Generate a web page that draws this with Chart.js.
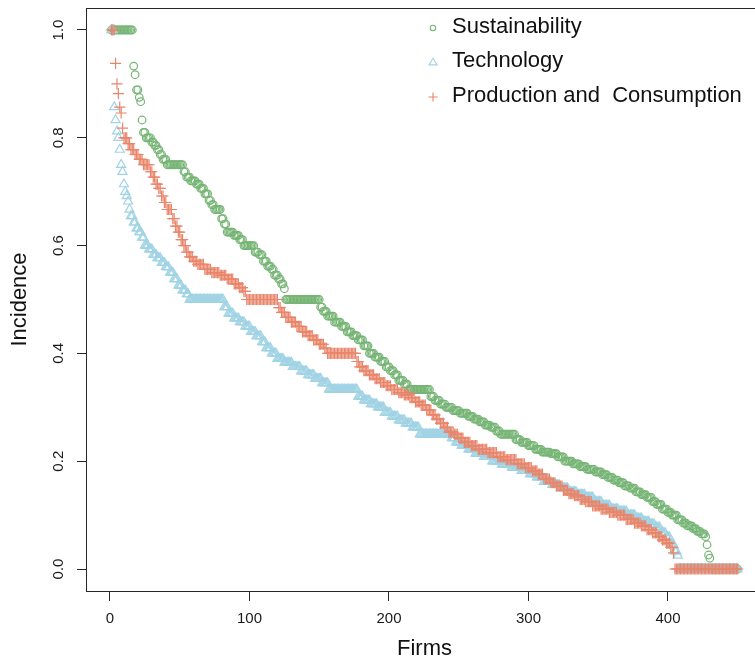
<!DOCTYPE html>
<html>
<head>
<meta charset="utf-8">
<script src="https://cdn.jsdelivr.net/npm/chart.js@4.4.1/dist/chart.umd.min.js"></script>
<style>
    html, body { margin: 0; padding: 0; background: #ffffff; overflow: hidden; }
    #wrap { width: 770px; height: 663px; }
</style>
</head>
<body>
<div id="wrap"><canvas id="chart" width="770" height="663"></canvas></div>
<script>
// series labels and axis ticks
const seriesNames = ["Sustainability", "Technology", "Production and  Consumption"];
const xTicks = [0, 100, 200, 300, 400];
const yTicks = [0, 0.2, 0.4, 0.6, 0.8, 1.0];

// incidence per firm, sorted, written as [value, number of firms] runs
const sustainabilityRuns = [
    [1, 16], [0.933, 1], [0.917, 1], [0.889, 2], [0.875, 1], [0.867, 1], [0.833, 1], [0.81, 2], [0.8, 4],
    [0.792, 2], [0.786, 2], [0.778, 2], [0.769, 2], [0.76, 3], [0.75, 12], [0.737, 2], [0.727, 3], [0.72, 4],
    [0.714, 3], [0.706, 3], [0.696, 3], [0.684, 2], [0.676, 2], [0.667, 5], [0.65, 2], [0.64, 2], [0.625, 5],
    [0.619, 4], [0.611, 3], [0.6, 8], [0.588, 3], [0.583, 3], [0.571, 3], [0.562, 3], [0.556, 2], [0.545, 3],
    [0.538, 2], [0.529, 2], [0.52, 1], [0.5, 25], [0.486, 2], [0.478, 3], [0.469, 5], [0.458, 5], [0.45, 4],
    [0.44, 4], [0.433, 4], [0.425, 4], [0.414, 4], [0.4, 4], [0.393, 4], [0.385, 4], [0.375, 3], [0.368, 3],
    [0.36, 3], [0.35, 4], [0.343, 3], [0.333, 16], [0.32, 3], [0.313, 4], [0.306, 4], [0.3, 5], [0.294, 5],
    [0.289, 6], [0.283, 4], [0.278, 4], [0.273, 4], [0.267, 4], [0.263, 4], [0.256, 3], [0.25, 11], [0.24, 4],
    [0.235, 5], [0.229, 5], [0.222, 5], [0.217, 6], [0.214, 5], [0.208, 5], [0.2, 6], [0.195, 5], [0.19, 5],
    [0.185, 6], [0.18, 5], [0.175, 4], [0.17, 4], [0.165, 4], [0.16, 4], [0.154, 4], [0.15, 4], [0.143, 4],
    [0.138, 4], [0.133, 4], [0.125, 3], [0.12, 4], [0.111, 4], [0.105, 3], [0.1, 4], [0.091, 4], [0.085, 3],
    [0.08, 4], [0.075, 3], [0.07, 3], [0.065, 3], [0.06, 1], [0.045, 1], [0.026, 1], [0.02, 1], [0, 20]
];

const technologyRuns = [
    [1, 2], [0.857, 1], [0.833, 1], [0.812, 1], [0.8, 1], [0.778, 1], [0.75, 1], [0.737, 1], [0.714, 1],
    [0.7, 1], [0.692, 1], [0.682, 1], [0.667, 1], [0.655, 2], [0.643, 2], [0.632, 2], [0.625, 2], [0.615, 2],
    [0.6, 3], [0.593, 3], [0.583, 3], [0.577, 3], [0.568, 3], [0.56, 3], [0.55, 3], [0.538, 3], [0.526, 3],
    [0.517, 3], [0.51, 2], [0.5, 25], [0.486, 3], [0.474, 4], [0.465, 4], [0.458, 4], [0.45, 4], [0.44, 4],
    [0.432, 4], [0.421, 3], [0.41, 4], [0.4, 4], [0.39, 5], [0.383, 6], [0.375, 6], [0.367, 5], [0.36, 5],
    [0.353, 5], [0.345, 5], [0.333, 21], [0.32, 4], [0.313, 5], [0.306, 5], [0.3, 5], [0.29, 5], [0.283, 5],
    [0.276, 5], [0.27, 5], [0.263, 5], [0.25, 23], [0.243, 3], [0.235, 4], [0.229, 5], [0.222, 5], [0.214, 6],
    [0.208, 6], [0.2, 7], [0.194, 7], [0.188, 7], [0.182, 6], [0.176, 5], [0.17, 5], [0.162, 6], [0.156, 6],
    [0.15, 6], [0.143, 6], [0.138, 6], [0.133, 6], [0.125, 6], [0.118, 6], [0.111, 6], [0.107, 6], [0.1, 6],
    [0.094, 5], [0.088, 5], [0.083, 4], [0.077, 4], [0.067, 4], [0.059, 3], [0.045, 3], [0.033, 2], [0.025, 1],
    [0, 43]
];

const productionRuns = [
    [1, 3], [0.938, 1], [0.9, 1], [0.882, 1], [0.857, 1], [0.846, 1], [0.818, 1], [0.8, 3], [0.789, 2],
    [0.778, 3], [0.769, 3], [0.76, 3], [0.75, 5], [0.737, 2], [0.727, 2], [0.714, 2], [0.706, 2], [0.692, 2],
    [0.68, 2], [0.667, 4], [0.65, 2], [0.636, 2], [0.625, 2], [0.611, 2], [0.6, 2], [0.588, 2], [0.579, 3],
    [0.571, 3], [0.565, 5], [0.556, 5], [0.55, 6], [0.545, 5], [0.538, 5], [0.529, 4], [0.522, 3], [0.515, 2],
    [0.5, 23], [0.485, 2], [0.476, 3], [0.467, 4], [0.458, 4], [0.45, 4], [0.44, 4], [0.433, 4], [0.425, 4],
    [0.417, 4], [0.41, 2], [0.4, 21], [0.385, 2], [0.375, 3], [0.368, 4], [0.36, 4], [0.353, 4], [0.346, 4],
    [0.34, 4], [0.333, 5], [0.327, 4], [0.323, 4], [0.318, 4], [0.31, 4], [0.304, 4], [0.295, 4], [0.286, 3],
    [0.278, 3], [0.27, 3], [0.263, 3], [0.254, 4], [0.25, 3], [0.243, 4], [0.235, 5], [0.229, 5], [0.222, 7],
    [0.216, 7], [0.208, 6], [0.203, 8], [0.195, 6], [0.188, 5], [0.182, 4], [0.176, 4], [0.167, 5], [0.16, 4],
    [0.154, 5], [0.146, 4], [0.14, 4], [0.136, 4], [0.129, 4], [0.125, 5], [0.117, 6], [0.111, 6], [0.105, 6],
    [0.1, 6], [0.092, 6], [0.085, 5], [0.08, 4], [0.073, 4], [0.067, 4], [0.06, 3], [0.054, 3], [0.048, 3],
    [0.04, 2], [0.03, 1], [0, 46]
];

const seriesColors = ["#76b575", "#a0d3e4", "#e9856a"];
const fontFamily = "'Liberation Sans', Arial, Helvetica, sans-serif";
const axisColor = "#262626";

// one point per firm, firms numbered from 1
const expandRuns = (runs) => {
    const points = [];
    let firm = 1;
    runs.forEach(([value, count]) => {
        for (let k = 0; k < count; k++) {
            points.push({ x: firm, y: value });
            firm++;
        }
    });
    return points;
};

const makeDataset = (label, runs, color, style, radius, order) => ({
    label: label,
    data: expandRuns(runs),
    showLine: false,
    pointStyle: style,
    pointRadius: radius,
    pointHoverRadius: radius,
    pointBorderWidth: 1.2,
    pointBorderColor: color,
    pointBackgroundColor: "rgba(0,0,0,0)",
    borderColor: color,
    backgroundColor: color,
    order: order,
});

// R-style box, rotated y tick labels and the legend
const rStylePlugin = {
    id: "rStyle",
    afterDatasetsDraw(chart) {
        const { ctx, chartArea, scales } = chart;
        ctx.save();

        ctx.strokeStyle = axisColor;
        ctx.lineWidth = 1;
        ctx.strokeRect(
            Math.round(chartArea.left) + 0.5,
            Math.round(chartArea.top) + 0.5,
            Math.round(chartArea.right - chartArea.left),
            Math.round(chartArea.bottom - chartArea.top)
        );

        ctx.fillStyle = "#1a1a1a";
        ctx.font = "15px " + fontFamily;
        ctx.textAlign = "center";
        ctx.textBaseline = "alphabetic";
        yTicks.forEach((v) => {
            const py = scales.y.getPixelForValue(v);
            ctx.save();
            ctx.translate(63, py);
            ctx.rotate(-Math.PI / 2);
            ctx.fillText(v.toFixed(1), 0, 0);
            ctx.restore();
        });

        const markerX = 433;
        const rowY = [28, 62, 97];
        const baseY = [33, 67, 102];
        seriesNames.forEach((name, i) => {
            const y = rowY[i];
            ctx.strokeStyle = seriesColors[i];
            ctx.lineWidth = 1.1;
            ctx.beginPath();
            if (i === 0) {
                ctx.arc(markerX, y, 2.7, 0, Math.PI * 2);
            } else if (i === 1) {
                ctx.moveTo(markerX, y - 3.8);
                ctx.lineTo(markerX + 4.1, y + 2.9);
                ctx.lineTo(markerX - 4.1, y + 2.9);
                ctx.closePath();
            } else {
                ctx.moveTo(markerX - 4.6, y);
                ctx.lineTo(markerX + 4.6, y);
                ctx.moveTo(markerX, y - 4.6);
                ctx.lineTo(markerX, y + 4.6);
            }
            ctx.stroke();

            ctx.fillStyle = "#111111";
            ctx.font = "22px " + fontFamily;
            ctx.textAlign = "left";
            ctx.fillText(name, 452, baseY[i]);
        });

        ctx.restore();
    },
};

const canvas = document.getElementById("chart");

new Chart(canvas.getContext("2d"), {
    type: "scatter",
    data: {
        datasets: [
            makeDataset(seriesNames[0], sustainabilityRuns, seriesColors[0], "circle", 3.8, 2),
            makeDataset(seriesNames[1], technologyRuns, seriesColors[1], "triangle", 5.2, 1),
            makeDataset(seriesNames[2], productionRuns, seriesColors[2], "cross", 5.6, 0),
        ],
    },
    options: {
        responsive: false,
        animation: false,
        devicePixelRatio: 1,
        layout: { padding: { left: 0, top: 8, right: 7, bottom: 0 } },
        plugins: {
            legend: { display: false },
            tooltip: { enabled: false },
        },
        scales: {
            x: {
                type: "linear",
                position: "bottom",
                min: -17.2,
                max: 468.1,
                afterBuildTicks: (scale) => {
                    scale.ticks = xTicks.map((v) => ({ value: v }));
                },
                afterFit: (scale) => {
                    scale.height = 72;
                },
                grid: {
                    drawOnChartArea: false,
                    drawTicks: true,
                    tickLength: 10,
                    tickColor: axisColor,
                    tickWidth: 1,
                },
                border: { display: false },
                ticks: {
                    padding: 9,
                    color: "#1a1a1a",
                    font: { size: 15, family: fontFamily },
                    maxRotation: 0,
                    callback: (v) => String(v),
                },
                title: {
                    display: true,
                    text: "Firms",
                    color: "#111111",
                    font: { size: 22, family: fontFamily },
                    padding: { top: 0, bottom: 1 },
                },
            },
            y: {
                type: "linear",
                position: "left",
                min: -0.0408,
                max: 1.0408,
                afterBuildTicks: (scale) => {
                    scale.ticks = yTicks.map((v) => ({ value: v }));
                },
                afterFit: (scale) => {
                    scale.width = 86;
                },
                grid: {
                    drawOnChartArea: false,
                    drawTicks: true,
                    tickLength: 9,
                    tickColor: axisColor,
                    tickWidth: 1,
                },
                border: { display: false },
                ticks: { display: false },
                title: {
                    display: true,
                    text: "Incidence",
                    color: "#111111",
                    font: { size: 22, family: fontFamily },
                    padding: { top: 7, bottom: 0 },
                },
            },
        },
    },
    plugins: [rStylePlugin],
});
</script>
</body>
</html>
